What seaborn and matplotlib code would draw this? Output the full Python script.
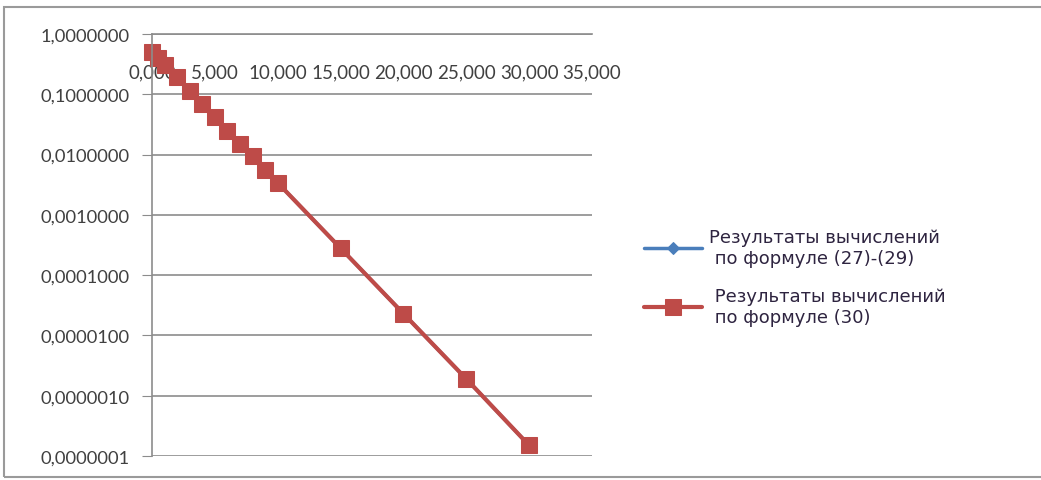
import numpy as np
import pandas as pd
import matplotlib
matplotlib.use("Agg")
import matplotlib.pyplot as plt
import matplotlib.ticker as mticker
from matplotlib.patches import Rectangle
import seaborn as sns

# values
x_vals = [0, 0.5, 1, 2, 3, 4, 5, 6, 7, 8, 9, 10, 15, 20, 25, 30]
y_formula_27_29 = [0.50, 0.40, 0.31, 0.19, 0.115, 0.070, 0.042, 0.025, 0.015,
                   0.0093, 0.0056, 0.0034, 0.00028, 0.000023, 0.0000019, 0.00000015]
y_formula_30 = [0.50, 0.40, 0.31, 0.19, 0.115, 0.070, 0.042, 0.025, 0.015,
                0.0093, 0.0056, 0.0034, 0.00028, 0.000023, 0.0000019, 0.00000015]
labels = ["Результаты вычислений\n по формуле (27)-(29)",
          " Результаты вычислений\n по формуле (30)"]
x_ticks = [0, 5, 10, 15, 20, 25, 30, 35]
y_ticks = [1e-7, 1e-6, 1e-5, 1e-4, 1e-3, 1e-2, 1e-1, 1]

sns.set_style("white")
plt.rcParams['font.family'] = ['Lato', 'DejaVu Sans']

df_a = pd.DataFrame({"x": x_vals, "y": y_formula_27_29})
df_b = pd.DataFrame({"x": x_vals, "y": y_formula_30})

fig = plt.figure(figsize=(10.41, 4.81), dpi=100)
ax = fig.add_axes([152/1041, 1 - 457/481, 440/1041, 422/481])

blue = "#4A7EBB"
red = "#BE4B48"
sns.lineplot(data=df_a, x="x", y="y", ax=ax, color=blue, lw=2.5, marker="D",
             markersize=6, markeredgecolor=blue, label=labels[0], clip_on=False)
sns.lineplot(data=df_b, x="x", y="y", ax=ax, color=red, lw=3, marker="s",
             markersize=11, markeredgecolor=red, label=labels[1], clip_on=False)

ax.set_yscale("log")
ax.set_ylim(1e-7, 1)
ax.set_xlim(0, 35)
ax.set_xticks(x_ticks)
ax.set_yticks(y_ticks)
ax.yaxis.set_minor_locator(mticker.NullLocator())
ax.xaxis.set_major_formatter(mticker.FuncFormatter(lambda v, p: f"{v:.3f}".replace(".", ",")))
ax.yaxis.set_major_formatter(mticker.FuncFormatter(lambda v, p: f"{v:.7f}".replace(".", ",")))
ax.set_xlabel("")
ax.set_ylabel("")

ax.grid(axis="y", color="#8c8c8c", lw=1.2)
ax.set_axisbelow(True)

for s in ["right", "top"]:
    ax.spines[s].set_visible(False)
ax.spines["bottom"].set_position(("axes", 1.0))
ax.spines["bottom"].set_color("#8c8c8c")
ax.spines["left"].set_color("#8c8c8c")
ax.spines["left"].set_linewidth(1.2)
ax.spines["bottom"].set_linewidth(1.2)

ax.tick_params(axis="x", direction="in", length=5, color="#8c8c8c",
               labelsize=13.5, labelcolor="#404040", pad=21)
ax.tick_params(axis="y", direction="out", length=7, color="#8c8c8c",
               labelsize=13.2, labelcolor="#404040", pad=9, left=True)

ax.get_legend().remove()
handles, lbls = ax.get_legend_handles_labels()
fig.legend(handles, lbls, loc="center left", bbox_to_anchor=(628/1041, 1 - 278/481),
           frameon=False, prop={"family": ["DejaVu Sans"], "size": 13},
           labelcolor="#2e2440", handlelength=3.2, labelspacing=1.1, handletextpad=0.4)

fig.patches.append(Rectangle((4/1041, 3/481), 1, 470/481, transform=fig.transFigure,
                             fill=False, edgecolor="#9a9a9a", lw=1.5))

plt.savefig("out.png", dpi=100)
